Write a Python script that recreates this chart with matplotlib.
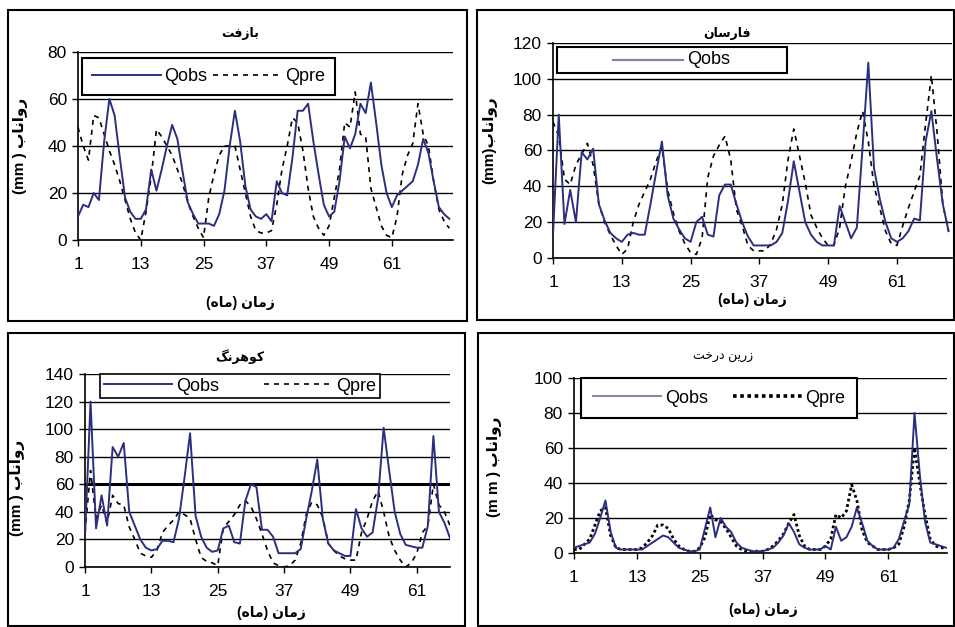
import matplotlib
matplotlib.use("Agg")
import matplotlib.pyplot as plt
from matplotlib.patches import Rectangle
from matplotlib.lines import Line2D

plt.rcParams['font.family'] = ['Liberation Sans', 'DejaVu Sans']

bazoft_obs = [10, 15, 14, 20, 17, 42, 60, 53, 35, 18, 12, 9, 9, 13, 30, 21, 30, 40, 49, 43,
              29, 16, 11, 7, 7, 7, 6, 11, 21, 40, 55, 42, 23, 13, 10, 9, 11, 8, 25, 20,
              19, 35, 55, 55, 58, 42, 28, 15, 10, 12, 25, 44, 39, 45, 58, 54, 67, 50, 32, 20,
              14, 19, 21, 23, 25, 32, 43, 37, 25, 14, 11, 9]
bazoft_pre = [48, 40, 34, 53, 52, 45, 38, 32, 25, 17, 9, 3, 0, 12, 27, 47, 44, 40, 36, 30,
              24, 16, 10, 5, 1, 18, 28, 36, 40, 40, 40, 30, 20, 10, 4, 3, 3, 4, 15, 30,
              40, 52, 50, 38, 22, 10, 5, 2, 6, 18, 30, 50, 48, 63, 45, 44, 22, 14, 6, 2,
              1, 10, 28, 36, 41, 58, 45, 40, 25, 13, 8, 5]

farsan_obs = [13, 80, 19, 38, 20, 59, 55, 61, 30, 21, 14, 11, 9, 13, 14, 13, 13, 30, 48, 65,
              35, 22, 16, 11, 9, 20, 23, 13, 12, 35, 41, 41, 30, 20, 12, 7, 7, 7, 7, 9,
              14, 32, 54, 37, 20, 13, 9, 7, 7, 7, 29, 20, 11, 17, 62, 109, 50, 33, 20, 11,
              9, 11, 15, 22, 21, 65, 82, 55, 30, 15]
farsan_pre = [76, 68, 44, 41, 52, 58, 64, 52, 30, 20, 13, 7, 2, 5, 20, 30, 37, 44, 54, 62,
              38, 25, 15, 8, 3, 2, 11, 45, 57, 63, 68, 55, 27, 18, 7, 4, 4, 4, 8, 16,
              30, 55, 72, 57, 42, 24, 17, 11, 7, 7, 17, 40, 54, 70, 82, 65, 40, 28, 15, 8,
              7, 18, 28, 37, 46, 75, 102, 70, 30, 15]

kuhrang_obs = [22, 120, 28, 52, 30, 87, 80, 90, 40, 30, 20, 14, 12, 13, 19, 19, 18, 35, 65, 97,
               37, 22, 14, 11, 12, 28, 30, 18, 17, 48, 60, 58, 27, 27, 22, 10, 10, 10, 10, 13,
               35, 55, 78, 35, 17, 12, 10, 8, 8, 42, 28, 22, 25, 50, 101, 70, 40, 24, 16, 15,
               14, 14, 30, 95, 40, 32, 21]
kuhrang_pre = [25, 70, 35, 45, 32, 52, 46, 45, 29, 20, 10, 8, 7, 12, 25, 30, 34, 40, 38, 35,
               20, 7, 4, 3, 1, 28, 33, 38, 45, 48, 44, 35, 24, 12, 3, 1, 0, 1, 5, 17,
               38, 47, 45, 36, 17, 12, 8, 6, 5, 5, 25, 35, 48, 55, 40, 22, 12, 5, 0, 3,
               10, 25, 30, 60, 45, 40, 30]

zarin_obs = [3, 4, 5, 6, 11, 20, 30, 12, 3, 2, 2, 2, 2, 2, 4, 6, 8, 10, 9, 6,
             3, 2, 1, 1, 2, 14, 26, 9, 20, 15, 12, 6, 3, 2, 1, 1, 1, 2, 3, 6,
             10, 17, 12, 5, 3, 2, 2, 2, 4, 2, 15, 7, 9, 15, 26, 17, 7, 4, 2, 2,
             2, 3, 8, 18, 28, 80, 45, 18, 6, 5, 4, 3]
zarin_pre = [2, 2, 5, 8, 16, 24, 26, 10, 3, 2, 2, 2, 2, 3, 6, 10, 16, 16, 14, 8,
             4, 2, 1, 1, 3, 9, 22, 19, 18, 14, 9, 4, 2, 1, 1, 1, 1, 2, 4, 7,
             11, 17, 22, 10, 4, 2, 2, 2, 4, 8, 22, 20, 24, 39, 30, 13, 6, 4, 2, 2,
             2, 3, 5, 15, 30, 60, 40, 22, 8, 4, 3, 3]

month_ticks = [1, 13, 25, 37, 49, 61]

# Arabic script written in presentation forms, visual order (matplotlib does no shaping)
t_bazoft = "\uFE96\uFED3\uFEAF\uFE8E\uFE91"
t_farsan = "\uFEE5\uFE8E\uFEB3\uFEAD\uFE8E\uFED3"
t_kuhrang = "\uFB93\uFEE7\uFEAE\uFEEB\uFEEE\uFB90"
t_zarin = "\uFE96\uFEA7\uFEAD\uFEA9 \uFEE6\uFEF3\uFEAD\uFEAF"
runoff = "\uFE8F\uFE8E\uFEE7\uFE8D\uFEED\uFEAD"
xlab = "(\uFEE9\uFE8E\uFEE3) \uFEE5\uFE8E\uFEE3\uFEAF"

NAVY = "#2a2f80"
W, H = 955, 627

fig = plt.figure(figsize=(9.55, 6.27), dpi=100)


def frame(l, t, r, b):
    fig.add_artist(Rectangle((l / W, 1 - b / H), (r - l) / W, (b - t) / H,
                             transform=fig.transFigure, fill=False, ec='black', lw=1.5))


def panel(l, t, r, b, obs, pre, ymax, xmax, pre_style, lw_pre=1.2):
    ax = fig.add_axes([l / W, 1 - b / H, (r - l) / W, (b - t) / H])
    x = list(range(1, len(obs) + 1))
    lo, = ax.plot(x, obs, color=NAVY, lw=1.4, label='Qobs', zorder=3)
    lp, = ax.plot(x, pre, color='black', lw=lw_pre, linestyle=pre_style, label='Qpre', zorder=2)
    ax.set_xlim(1, xmax)
    ax.set_ylim(0, ymax)
    ax.set_xticks(month_ticks)
    ax.set_yticks(range(0, ymax + 1, 20))
    ax.yaxis.grid(True, color='black', lw=1.0)
    ax.set_axisbelow(True)
    for s in ['top', 'right']:
        ax.spines[s].set_visible(False)
    ax.spines['left'].set_linewidth(1.2)
    ax.spines['bottom'].set_linewidth(1.2)
    ax.tick_params(axis='x', length=4, width=1, pad=8, labelsize=12.5)
    ax.tick_params(axis='y', length=4, width=1, pad=4, labelsize=12.5)
    return ax, lo, lp


frame(8, 10, 467, 321)
frame(477, 10, 954, 320)
frame(8, 333, 465, 626)
frame(478, 333, 954, 626)

# Bazoft
ax1, o1, p1 = panel(78, 52, 453, 240, bazoft_obs, bazoft_pre, 80, 72.7, (0, (3, 3)))
ax1.legend([o1, p1], ['Qobs', 'Qpre'], loc='upper left', bbox_to_anchor=(0.011, 0.0, 0.675, 0.968),
           mode='expand', ncol=2, fancybox=False, edgecolor='black', framealpha=1,
           borderaxespad=0, handlelength=3.8, handletextpad=0.2, columnspacing=0.5,
           borderpad=0.55, fontsize=13).get_frame().set_linewidth(1.5)
ax1.set_ylabel("(mm ) " + runoff, fontsize=11, fontweight='bold')
ax1.yaxis.set_label_coords(-0.133, 0.5)
ax1.text(0.432, -0.335, xlab, transform=ax1.transAxes, ha='center', va='center',
         fontsize=10, fontweight='bold')
fig.text(240 / W, 1 - 33 / H, t_bazoft, ha='center', va='center', fontsize=9, fontweight='bold')

# Farsan
ax2, o2, p2 = panel(553, 43, 952, 258, farsan_obs, farsan_pre, 120, 70.6, (0, (3, 3)))
ax2.add_patch(Rectangle((0.010, 0.860), 0.576, 0.121, transform=ax2.transAxes,
                        fc='white', ec='black', lw=1.5, zorder=5))
ax2.add_line(Line2D([0.150, 0.326], [0.921, 0.921], transform=ax2.transAxes,
                    color='#7f84a6', lw=1.6, zorder=6))
ax2.text(0.336, 0.925, 'Qobs', transform=ax2.transAxes, ha='left', va='center',
         fontsize=13, zorder=6)
ax2.set_ylabel("(mm)" + runoff, fontsize=11, fontweight='bold')
ax2.yaxis.set_label_coords(-0.14, 0.55)
ax2.text(0.50, -0.195, xlab, transform=ax2.transAxes, ha='center', va='center',
         fontsize=10, fontweight='bold')
fig.text(727 / W, 1 - 33 / H, t_farsan, ha='center', va='center', fontsize=9, fontweight='bold')

# Kuhrang
ax3, o3, p3 = panel(85, 374, 450, 567, kuhrang_obs, kuhrang_pre, 140, 67, (0, (3, 3)))
ax3.axhline(60, color='black', lw=2.2, zorder=0)
ax3.legend([o3, p3], ['Qobs', 'Qpre'], loc='upper left', bbox_to_anchor=(0.041, 0.0, 0.767, 1.0),
           mode='expand', ncol=2, fancybox=False, edgecolor='black', framealpha=1,
           borderaxespad=0, handlelength=3.8, handletextpad=0.2, columnspacing=0.5,
           borderpad=0.2, fontsize=13).get_frame().set_linewidth(1.2)
ax3.set_ylabel("(mm ) " + runoff, fontsize=11, fontweight='bold')
ax3.yaxis.set_label_coords(-0.164, 0.41)
ax3.text(0.51, -0.24, xlab, transform=ax3.transAxes, ha='center', va='center',
         fontsize=10, fontweight='bold')
fig.text(240 / W, 1 - 357 / H, t_kuhrang, ha='center', va='center', fontsize=9, fontweight='bold')

# Zarin Derakht
ax4, o4, p4 = panel(574, 378, 947, 553, zarin_obs, zarin_pre, 100, 72.2, (0, (1, 1)), lw_pre=2.0)
leg4 = ax4.legend([o4, p4], ['Qobs', 'Qpre'], loc='upper left', bbox_to_anchor=(0.019, 0.0, 0.74, 1.0),
                  mode='expand', ncol=2, fancybox=False, edgecolor='black', framealpha=1,
                  borderaxespad=0, handlelength=3.8, handletextpad=0.2, columnspacing=0.5,
                  borderpad=0.65, fontsize=13)
leg4.get_frame().set_linewidth(1.5)
leg4.get_lines()[0].set_color('#7f84a6')
leg4.get_lines()[1].set_linewidth(2.6)
ax4.set_ylabel("(m m ) " + runoff, fontsize=11, fontweight='bold')
ax4.yaxis.set_label_coords(-0.193, 0.49)
ax4.text(0.507, -0.326, xlab, transform=ax4.transAxes, ha='center', va='center',
         fontsize=10, fontweight='bold')
fig.text(723 / W, 1 - 357 / H, t_zarin, ha='center', va='center', fontsize=9)

fig.savefig("out.png", dpi=100)
